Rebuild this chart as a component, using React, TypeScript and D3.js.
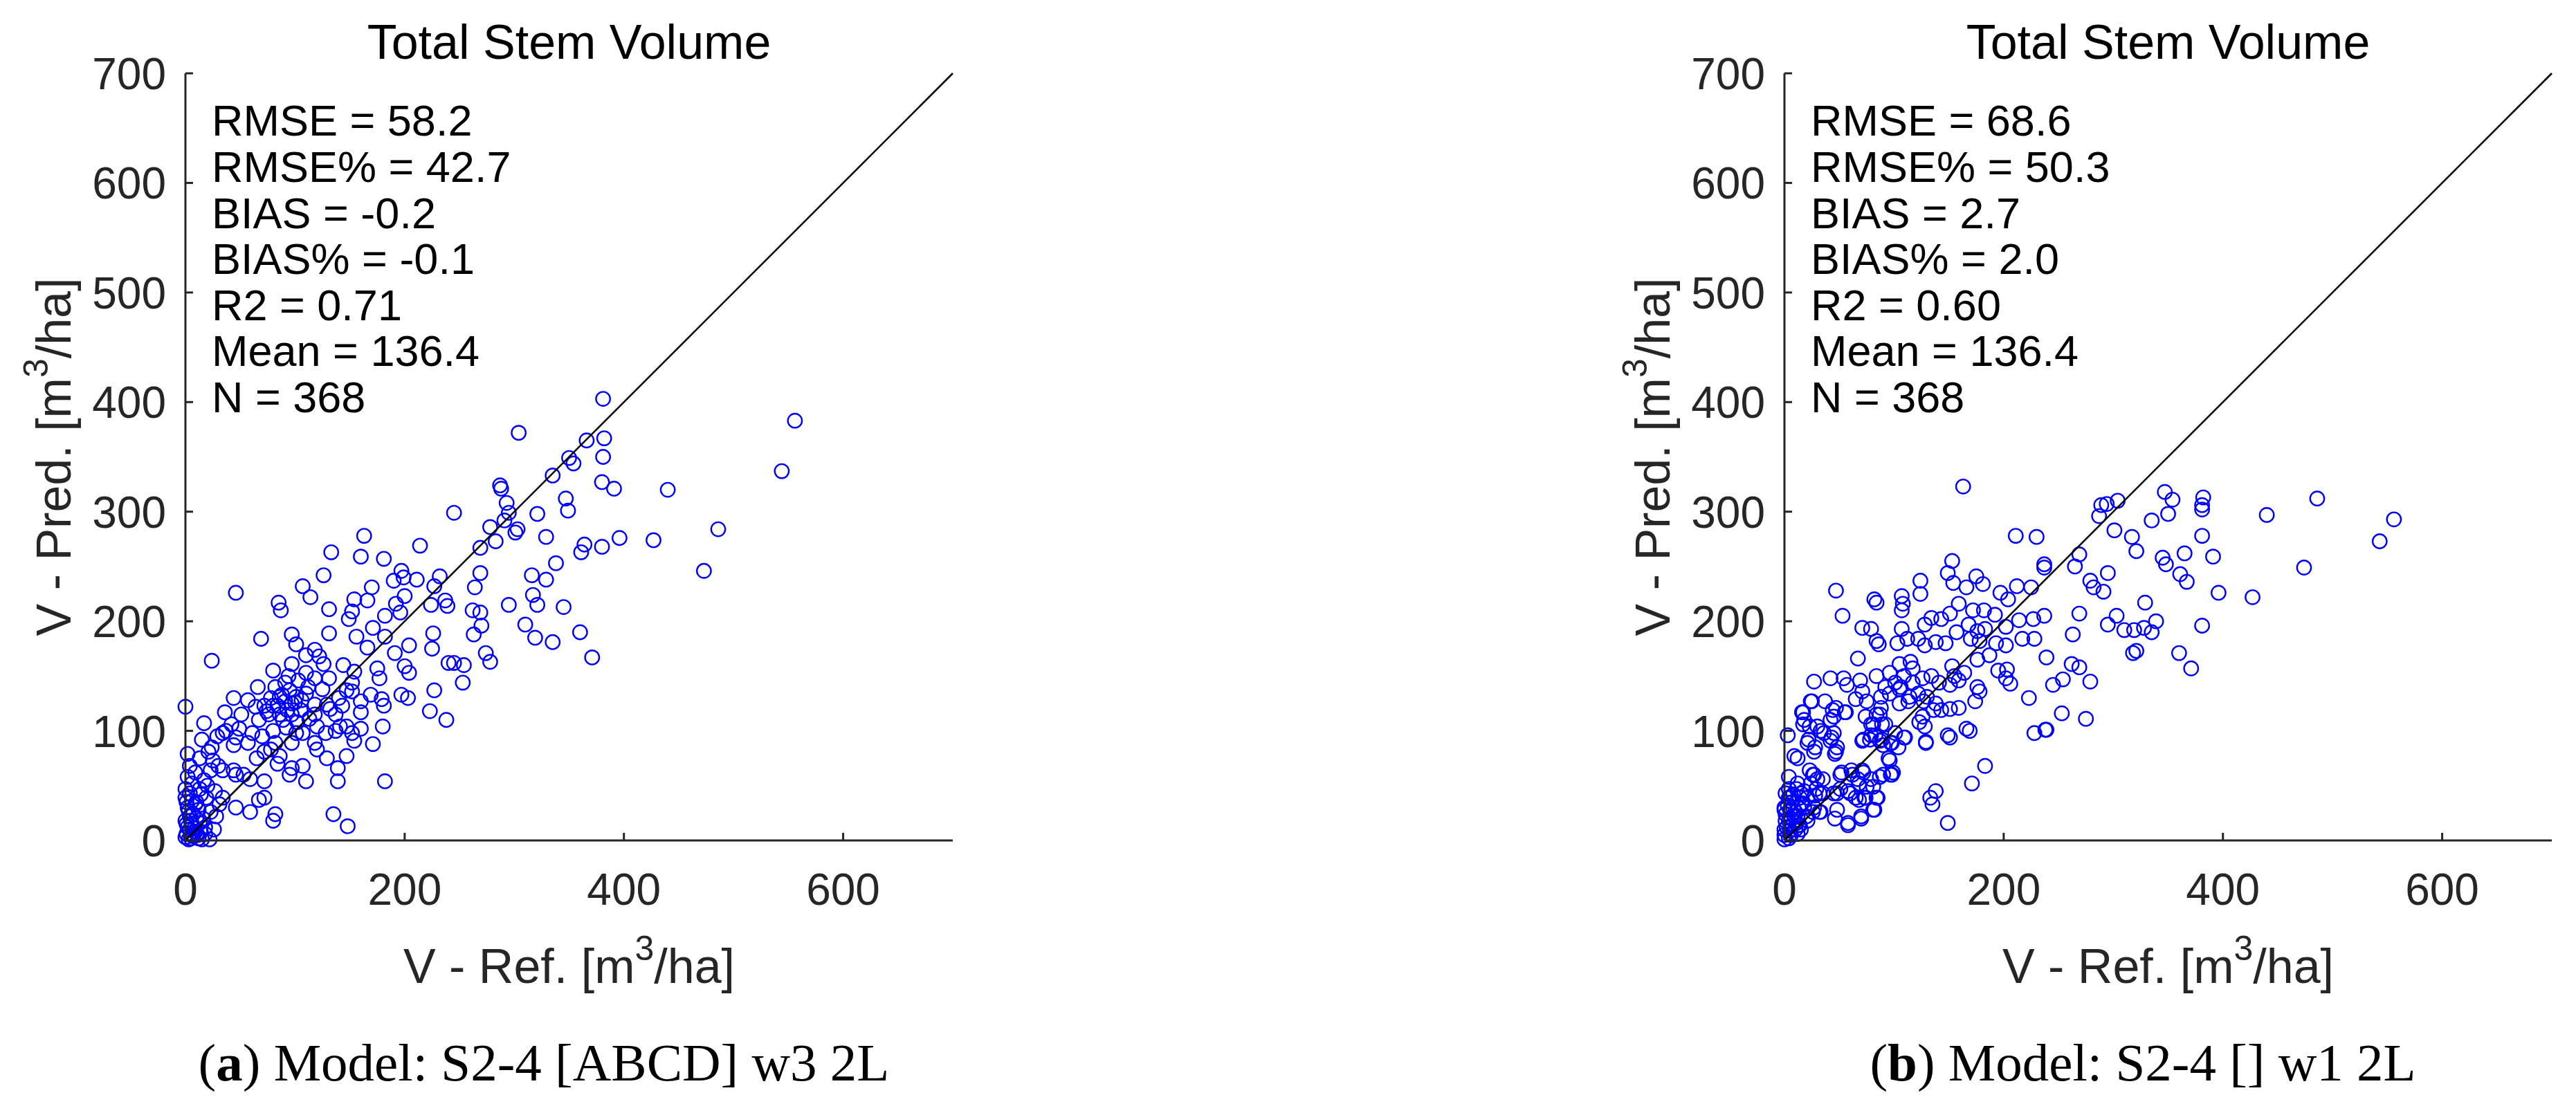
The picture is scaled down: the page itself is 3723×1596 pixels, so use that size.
import React from 'react';
import * as d3 from 'd3';

// values: [V - Ref., V - Pred.]
const pointsA: [number, number][] = [
  [304, 372], [366, 365], [382, 367], [381, 350], [350, 349], [354, 344], [335, 333], [544, 337], [380, 327], [391, 321],
  [440, 320], [287, 324], [288, 321], [293, 308], [295, 299], [291, 292], [303, 284], [301, 281], [278, 286], [245, 299],
  [347, 312], [349, 301], [321, 298], [486, 284], [427, 274], [396, 276], [329, 277], [364, 270], [361, 263], [380, 268],
  [283, 273], [269, 267], [214, 269], [473, 246], [338, 253], [316, 242], [329, 238], [269, 244], [264, 231], [317, 224],
  [321, 215], [345, 213], [295, 215], [310, 197], [319, 185], [335, 181], [360, 190], [371, 167], [262, 210], [269, 208],
  [270, 196], [263, 188], [274, 171], [278, 163], [245, 162], [254, 160], [253, 144], [381, 403], [556, 383],
  [163, 278], [133, 263], [160, 259], [181, 257],
  [126, 242], [107, 232], [114, 222], [46, 226], [85, 217], [87, 210], [131, 211], [197, 246], [190, 237], [199, 240],
  [211, 238], [232, 241], [227, 232], [170, 231], [154, 220], [166, 219], [152, 209], [200, 223], [224, 215], [239, 214],
  [182, 205], [196, 208], [149, 202], [131, 189], [97, 188], [101, 179], [69, 184], [171, 194], [156, 186], [166, 176],
  [182, 186], [204, 178], [226, 189], [225, 175], [191, 171], [240, 162], [200, 159], [204, 153], [175, 157], [177, 148],
  [144, 160], [154, 154], [118, 174], [122, 168], [110, 169], [126, 161], [97, 161], [80, 155], [24, 164], [110, 153],
  [103, 146], [118, 148], [131, 148], [91, 144], [66, 140], [44, 130], [0, 122], [17, 107], [227, 137], [197, 133],
  [203, 130], [223, 118], [238, 110], [152, 144], [152, 136], [169, 133], [179, 129], [181, 123], [160, 127], [143, 123],
  [137, 115], [160, 117], [147, 104], [137, 100], [152, 98], [160, 102], [180, 104], [171, 88], [154, 91], [141, 104],
  [118, 115], [129, 124], [86, 131], [80, 123], [93, 119], [72, 123], [76, 115], [97, 115], [89, 110], [67, 110],
  [97, 125], [105, 119], [82, 140], [101, 131], [110, 134], [36, 117], [51, 115], [42, 106], [37, 100], [46, 94],
  [57, 89], [61, 98], [49, 102], [34, 98], [44, 87], [24, 85], [21, 81], [2, 79], [13, 75], [25, 73],
  [30, 68], [23, 64], [34, 64], [44, 64], [53, 60], [46, 60], [59, 56], [72, 54], [78, 83], [82, 89],
  [72, 81], [65, 75], [86, 77], [84, 70], [97, 89], [107, 98], [101, 98], [118, 89], [120, 83], [97, 66],
  [107, 68], [95, 60], [110, 54], [129, 75], [139, 66], [147, 77], [139, 54], [182, 54], [72, 39], [67, 37],
  [59, 26], [46, 30], [80, 18], [82, 24], [135, 24], [148, 13], [0, 47], [0, 39], [4, 43], [13, 47],
  [19, 39], [9, 33], [23, 26], [34, 39], [28, 22], [4, 22], [0, 18], [13, 16], [4, 10], [0, 3],
  [11, 5], [15, 1], [22, 1],
  [2, 12], [6, 15], [9, 8], [3, 27], [7, 24], [12, 28], [16, 20], [18, 12], [10, 35], [14, 42],
  [20, 50], [6, 52], [2, 58], [9, 62], [17, 55], [27, 45], [31, 33], [12, 2], [5, 2], [18, 6],
  [26, 10], [1, 35], [4, 68], [15, 92], [29, 95],
  [1, 6], [3, 1], [7, 4], [8, 11], [1, 15], [5, 18], [10, 20], [14, 8], [2, 30], [6, 36],
  [84, 123], [91, 127], [88, 133], [95, 137], [100, 126], [106, 128], [112, 140], [94, 150], [78, 130], [74, 118],
  [86, 115], [102, 108], [113, 111], [120, 104], [125, 138], [132, 120], [140, 130], [147, 137], [128, 98], [118, 124],
  [92, 103], [80, 100], [70, 95], [64, 122], [57, 128], [237, 219], [192, 216],
];

const pointsB: [number, number][] = [
  [347, 318], [354, 311], [350, 298], [382, 313], [381, 306], [381, 302], [486, 312], [440, 297], [556, 293], [543, 273],
  [474, 249], [335, 292], [304, 310], [294, 307], [289, 306], [287, 296], [301, 283], [317, 277], [321, 264], [381, 278],
  [365, 262], [391, 259], [345, 258], [348, 252], [361, 243], [367, 236], [396, 226], [427, 222], [269, 261], [265, 250],
  [211, 278], [230, 277], [237, 252], [295, 244], [279, 237], [282, 231], [291, 227], [329, 217], [269, 207], [303, 205],
  [295, 197], [310, 192], [319, 192], [328, 194], [335, 190], [339, 200], [381, 196], [263, 188], [318, 171], [321, 173],
  [360, 171], [371, 157], [262, 161], [269, 158], [279, 145], [254, 147], [245, 142], [253, 116], [275, 111], [239, 101],
  [163, 323], [153, 255],
  [47, 228], [53, 205], [71, 194], [67, 166], [82, 220], [84, 217], [107, 223], [108, 216], [107, 210], [124, 237],
  [124, 225], [149, 244], [154, 235], [166, 231], [175, 241], [181, 234], [237, 249], [197, 226], [204, 220], [212, 232],
  [225, 231], [159, 216], [172, 210], [182, 210], [192, 206], [227, 202], [237, 205], [214, 201], [134, 203], [143, 202],
  [151, 207], [128, 197], [107, 193], [79, 193], [84, 182], [86, 179], [103, 180], [112, 184], [122, 184], [128, 178],
  [138, 181], [147, 180], [157, 190], [168, 197], [176, 191], [183, 193], [170, 184], [178, 182], [193, 180], [202, 178],
  [202, 195], [217, 184], [228, 184], [239, 167], [187, 169], [176, 165], [203, 156], [195, 155], [206, 143], [202, 148],
  [223, 130], [228, 98], [238, 101], [183, 68], [171, 52], [138, 45], [135, 33], [149, 16], [27, 145], [42, 148],
  [54, 148], [57, 142], [69, 146], [84, 150], [96, 153], [105, 161], [115, 163], [117, 157], [109, 150], [101, 144],
  [92, 140], [88, 131], [96, 134], [105, 138], [117, 144], [126, 148], [134, 150], [122, 134], [130, 131], [113, 127],
  [105, 125], [88, 121], [65, 129], [75, 127], [71, 136], [56, 117], [44, 119], [42, 110], [25, 127], [16, 117],
  [18, 110], [23, 104], [33, 100], [45, 98], [42, 91], [48, 85], [46, 79], [21, 89], [27, 81], [12, 75],
  [4, 58], [3, 96], [23, 64], [27, 60], [35, 56], [52, 62], [61, 64], [71, 64], [67, 56], [79, 56],
  [75, 49], [73, 39], [65, 39], [58, 45], [48, 43], [48, 28], [58, 16], [70, 22], [82, 28], [84, 39],
  [33, 26], [79, 96], [87, 91], [90, 87], [98, 89], [109, 94], [96, 73], [98, 60], [90, 60], [71, 91],
  [79, 106], [84, 115], [92, 106], [101, 98], [126, 113], [128, 104], [136, 119], [143, 119], [151, 120], [159, 121],
  [138, 125], [149, 96], [151, 94], [169, 100], [166, 102], [129, 90], [174, 127], [176, 140], [178, 136], [153, 159],
  [155, 150], [159, 146], [164, 153], [151, 142], [141, 144],
  [0, 28], [4, 39], [8, 30], [4, 18], [12, 22], [18, 30], [0, 10], [6, 5], [14, 14], [21, 18],
  [4, 47], [12, 52], [21, 39], [27, 30], [14, 39], [0, 1], [10, 10], [29, 47], [35, 43],
  [9, 77], [26, 60], [30, 56], [24, 52], [11, 47], [1, 43], [15, 43], [28, 41], [32, 43], [13, 30],
  [20, 22], [13, 14], [26, 26], [32, 26], [5, 9], [0, 5], [1, 18], [0, 30], [7, 35], [9, 22],
  [5, 39], [46, 20], [58, 14], [70, 20], [81, 28], [85, 39], [74, 39], [68, 37], [60, 43], [51, 47],
  [45, 43], [51, 60], [62, 60], [72, 62], [68, 52], [81, 49], [87, 58], [97, 60], [99, 62], [95, 75],
  [72, 92], [78, 92], [83, 96], [89, 92], [97, 89], [104, 85], [110, 94], [74, 113], [87, 115], [81, 106],
  [89, 106], [17, 117], [24, 127], [37, 127], [47, 121], [55, 117], [45, 113], [30, 104], [36, 98], [22, 92],
  [28, 85], [43, 94], [47, 81], [17, 106], [129, 89], [133, 39], [123, 108], [106, 140], [114, 131], [127, 127],
  [2, 12], [6, 20], [3, 32], [8, 42], [10, 26], [12, 6], [15, 10], [4, 2], [7, 14], [16, 34],
  [1, 24], [18, 45], [11, 16], [5, 28],
];

const xTicks = [0, 200, 400, 600];
const yTicks = [0, 100, 200, 300, 400, 500, 600, 700];
const statsA = ['RMSE = 58.2', 'RMSE% = 42.7', 'BIAS = -0.2', 'BIAS% = -0.1', 'R2 = 0.71', 'Mean = 136.4', 'N = 368'];
const statsB = ['RMSE = 68.6', 'RMSE% = 50.3', 'BIAS = 2.7', 'BIAS% = 2.0', 'R2 = 0.60', 'Mean = 136.4', 'N = 368'];
const title = 'Total Stem Volume';

const W = 3723;
const H = 1596;
const SANS = '"Liberation Sans", Arial, Helvetica, sans-serif';
const SERIF = '"Liberation Serif", "Times New Roman", serif';
const AXIS = '#262626';

const PLOT = 1109;   // square plot, px
const TOP = 106;
const BOTTOM = TOP + PLOT;

function Panel({ x0, points, stats, letter, model }: {
  x0: number; points: [number, number][]; stats: string[]; letter: string; model: string;
}) {
  const x = d3.scaleLinear().domain([0, 700]).range([x0, x0 + PLOT]);
  const y = d3.scaleLinear().domain([0, 700]).range([BOTTOM, TOP]);
  const cx = x0 + PLOT / 2;
  const line = d3.line<number>().x(d => x(d)).y(d => y(d))([0, 700]) || '';

  return (
    <g>
      {/* markers */}
      {points.map((p, i) => (
        <circle key={i} cx={x(p[0])} cy={y(p[1])} r={10.2} fill="none" stroke="#0000ff" strokeWidth={2.4} />
      ))}
      <path d={line} stroke="#000" strokeWidth={2.6} fill="none" />

      {/* axes */}
      <line x1={x0} x2={x0} y1={TOP} y2={BOTTOM} stroke={AXIS} strokeWidth={3} />
      <line x1={x0} x2={x0 + PLOT} y1={BOTTOM} y2={BOTTOM} stroke={AXIS} strokeWidth={3} />
      {yTicks.map(t => (
        <g key={'y' + t}>
          <line x1={x0} x2={x0 + 11} y1={y(t)} y2={y(t)} stroke={AXIS} strokeWidth={3} />
          <text x={x0 - 28} y={y(t)} dy="0.36em" textAnchor="end" fontSize={64} fill={AXIS} fontFamily={SANS}>{t}</text>
        </g>
      ))}
      {xTicks.map(t => (
        <g key={'x' + t}>
          <line x1={x(t)} x2={x(t)} y1={BOTTOM} y2={BOTTOM - 11} stroke={AXIS} strokeWidth={3} />
          <text x={x(t)} y={BOTTOM + 93} textAnchor="middle" fontSize={64} fill={AXIS} fontFamily={SANS}>{t}</text>
        </g>
      ))}

      {/* labels */}
      <text x={cx} y={85} textAnchor="middle" fontSize={70} fill="#000" fontFamily={SANS}>{title}</text>
      <text x={cx} y={BOTTOM + 206} textAnchor="middle" fontSize={70} fill={AXIS} fontFamily={SANS}>
        <tspan>V - Ref. [m</tspan>
        <tspan dy={-33} fontSize={50}>3</tspan>
        <tspan dy={33}>/ha]</tspan>
      </text>
      <text transform={`translate(${x0 - 166},${(TOP + BOTTOM) / 2}) rotate(-90)`} textAnchor="middle"
        fontSize={70} fill={AXIS} fontFamily={SANS}>
        <tspan>V - Pred. [m</tspan>
        <tspan dy={-33} fontSize={50}>3</tspan>
        <tspan dy={33}>/ha]</tspan>
      </text>

      {stats.map((s, i) => (
        <text key={s} x={x0 + 38} y={196.4 + i * 66.6} fontSize={63} fill="#000" fontFamily={SANS}>{s}</text>
      ))}

      <text x={x0 + 518} y={1562} textAnchor="middle" fontSize={77} fill="#000" fontFamily={SERIF}>
        <tspan>(</tspan>
        <tspan fontWeight="bold">{letter}</tspan>
        <tspan>) {model}</tspan>
      </text>
    </g>
  );
}

export default function App() {
  return (
    <svg width={W} height={H} viewBox={`0 0 ${W} ${H}`}
      style={{ position: 'absolute', left: 0, top: 0, background: '#fff' }}>
      <rect width={W} height={H} fill="#fff" />
      <Panel x0={268} points={pointsA} stats={statsA} letter="a" model="Model: S2-4 [ABCD] w3 2L" />
      <Panel x0={2579} points={pointsB} stats={statsB} letter="b" model="Model: S2-4 [] w1 2L" />
    </svg>
  );
}
